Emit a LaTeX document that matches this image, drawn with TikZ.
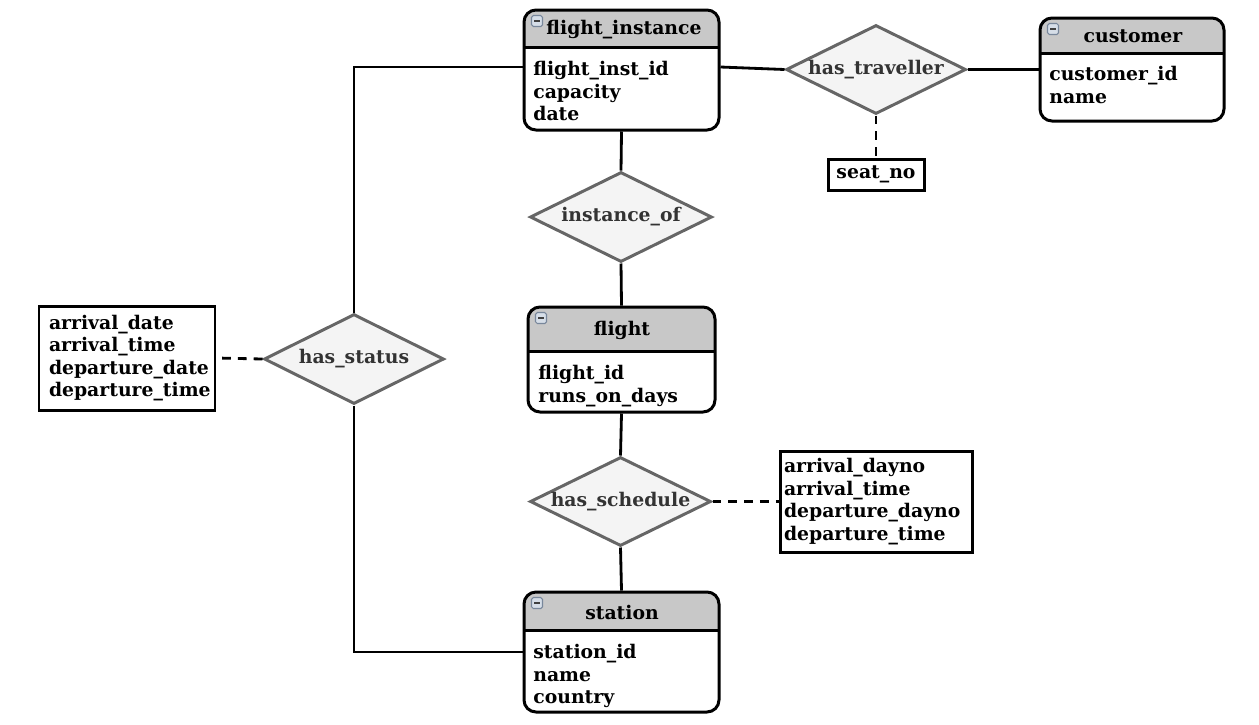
\documentclass[tikz,border=0pt]{standalone}
\usepackage{fontspec}
\setmainfont{DejaVu Serif}
\usepackage{tikz}
\usetikzlibrary{shapes.geometric}
\definecolor{headgray}{RGB}{200,200,200}
\definecolor{relfill}{RGB}{244,244,244}
\definecolor{reledge}{RGB}{102,102,102}
\definecolor{iconfill}{RGB}{214,222,232}
\definecolor{iconedge}{RGB}{120,135,155}
\newcommand{\erfont}{\fontsize{10.7}{12.8}\selectfont\bfseries}
\tikzset{
    % connectors
    myline/.style={line width=1.6pt},
    mydash/.style={line width=1.6pt, dash pattern=on 5pt off 4pt},
    % entity box, #1 = height of the grey header
    entity/.style={draw, line width=1.7pt, rounded corners=0.24cm, fill=white,
        path picture={
            \fill[headgray, sharp corners] (path picture bounding box.north west) rectangle ([yshift=-#1]path picture bounding box.north east);
            \draw[line width=1.7pt, sharp corners] ([yshift=-#1]path picture bounding box.north west) -- ([yshift=-#1]path picture bounding box.north east);
            \draw[iconedge, fill=iconfill, line width=0.6pt, rounded corners=1pt] ([shift={(0.15cm,-0.11cm)}]path picture bounding box.north west) rectangle ++(0.22cm,-0.22cm);
            \draw[black!75, line width=0.9pt, sharp corners] ([shift={(0.20cm,-0.22cm)}]path picture bounding box.north west) -- ++(0.12cm,0);
        }},
    etitle/.style={font=\erfont, inner sep=0pt},
    eattr/.style={font=\erfont, align=left, inner sep=0pt, anchor=north west},
    rel/.style={diamond, aspect=2, draw=reledge, fill=relfill, line width=1.7pt, inner sep=0pt,
        font=\erfont, text=black!80},
    attbox/.style={draw, line width=1.7pt, fill=white, font=\erfont, align=left}
}

\begin{document}
\begin{tikzpicture}
    \useasboundingbox (0,0) rectangle (25.18,-14.48);

    % ENTITIES
    \node (E1) at (12.43,-1.40) [entity=0.74cm, minimum width=3.90cm, minimum height=2.40cm] {};
    \node (E1t) at (12.48,-0.60) [etitle] {flight\_instance};
    \node (E1a) at (10.66,-1.22) [eattr] {flight\_inst\_id\\capacity\\date};

    \node (E2) at (22.64,-1.39) [entity=0.70cm, minimum width=3.68cm, minimum height=2.06cm] {};
    \node (E2t) at (22.66,-0.72) [etitle] {customer};
    \node (E2a) at (20.98,-1.32) [eattr] {customer\_id\\name};

    \node (E3) at (12.43,-7.19) [entity=0.88cm, minimum width=3.74cm, minimum height=2.10cm] {};
    \node (E3t) at (12.44,-6.60) [etitle] {flight};
    \node (E3a) at (10.76,-7.30) [eattr] {flight\_id\\runs\_on\_days};

    \node (E4) at (12.43,-13.04) [entity=0.76cm, minimum width=3.90cm, minimum height=2.40cm] {};
    \node (E4t) at (12.44,-12.24) [etitle] {station};
    \node (E4a) at (10.66,-12.88) [eattr] {station\_id\\name\\country};

    % RELATIONSHIPS
    \node (R1) at (17.52,-1.39) [rel, minimum width=3.60cm, minimum height=1.78cm] {has\_traveller};
    \node (R2) at (12.42,-4.34) [rel, minimum width=3.64cm, minimum height=1.80cm] {instance\_of};
    \node (R3) at (7.08,-7.18) [rel, minimum width=3.60cm, minimum height=1.80cm] {has\_status};
    \node (R4) at (12.41,-10.03) [rel, minimum width=3.62cm, minimum height=1.78cm] {has\_schedule};

    % RELATIONSHIP ATTRIBUTES
    \node (A1) at (17.52,-3.49) [attbox, minimum width=1.92cm, minimum height=0.62cm, inner sep=0pt] {seat\_no};
    \node (A2) at (2.54,-7.16) [attbox, text width=3.12cm, minimum height=2.08cm, inner xsep=0.20cm] {arrival\_date\\arrival\_time\\departure\_date\\departure\_time};
    \node (A3) at (17.52,-10.03) [attbox, text width=3.68cm, minimum height=2.02cm, inner xsep=0.08cm] {arrival\_dayno\\arrival\_time\\departure\_dayno\\departure\_time};

    % LINES
    \draw[myline] ([yshift=0.06cm]E1.west) -| (R3.north);
    \draw[myline] (R3.south) |- (E4.west);
    \draw[myline] ([yshift=0.06cm]E1.east) -- (R1.west);
    \draw[myline] (R1.east) -- (E2.west);
    \draw[myline] (E1.south) -- (R2.north);
    \draw[myline] (R2.south) -- (E3.north);
    \draw[myline] (E3.south) -- (R4.north);
    \draw[myline] (R4.south) -- (E4.north);
    \draw[mydash] (R1.south) -- (A1.north);
    \draw[mydash] (R3.west) -- (A2.east);
    \draw[mydash] (R4.east) -- (A3.west);

\end{tikzpicture}
\end{document}
